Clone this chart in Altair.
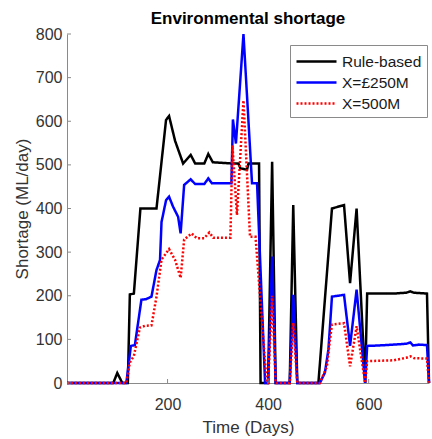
import altair as alt
import pandas as pd

FONT = "Liberation Sans"

series_names = ["Rule-based", "X=£250M", "X=500M"]
series_colors = ["#000000", "#0000ff", "#ff0000"]
series_dash = [[1, 0], [1, 0], [2, 2]]

# Rule-based operation
rule_days = [0, 92, 100, 110, 121, 125, 133, 146, 178, 197, 203, 215, 231, 246, 255,
             273, 281, 290, 331, 341, 345, 358, 361, 382, 385, 400, 408, 415, 443,
             450, 458, 500, 527, 551, 563, 576, 593, 597, 620, 650, 675, 683, 690,
             716, 720]
rule_vals = [0, 0, 23, 0, 0, 203, 205, 400, 400, 603, 612, 555, 503, 523, 503,
             503, 525, 506, 503, 503, 492, 489, 503, 503, 0, 0, 507, 0, 0,
             408, 0, 0, 400, 408, 229, 400, 0, 205, 205, 205, 207, 210, 207,
             205, 0]

# X = £250M
x250_days = [0, 118, 127, 135, 148, 157, 168, 178, 185, 188, 197, 203, 211, 221, 226,
             233, 246, 255, 273, 281, 288, 327, 330, 336, 351, 368, 378, 394, 400,
             408, 415, 443, 450, 458, 503, 513, 520, 527, 551, 563, 576, 593, 597,
             620, 650, 675, 683, 688, 700, 716, 720]
x250_vals = [0, 0, 85, 87, 191, 192, 198, 259, 282, 369, 419, 427, 404, 381, 343,
             454, 467, 456, 456, 469, 458, 458, 604, 549, 800, 458, 458, 0, 0,
             290, 0, 0, 202, 0, 0, 24, 77, 198, 202, 85, 214, 0, 85,
             86, 88, 90, 93, 86, 88, 87, 0]

# X = 500M
x500_days = [0, 118, 125, 133, 145, 155, 168, 178, 188, 203, 215, 226, 233, 248, 258,
             273, 283, 291, 325, 329, 338, 351, 364, 375, 397, 400, 408, 415, 443,
             450, 458, 503, 517, 523, 527, 551, 563, 576, 593, 597, 620, 650, 675,
             683, 690, 716, 720]
x500_vals = [0, 0, 47, 62, 127, 131, 132, 198, 283, 307, 282, 241, 329, 343, 332,
             332, 345, 333, 333, 545, 385, 648, 335, 335, 0, 0, 200, 0, 0,
             138, 0, 0, 38, 99, 134, 137, 38, 130, 0, 50, 51, 52, 58,
             61, 57, 56, 0]

y_ticks = [0, 100, 200, 300, 400, 500, 600, 700, 800]
x_ticks = [200, 400, 600]

frames = []
for name, days, vals in [(series_names[0], rule_days, rule_vals),
                         (series_names[1], x250_days, x250_vals),
                         (series_names[2], x500_days, x500_vals)]:
    frames.append(pd.DataFrame({"day": days, "shortage": vals, "series": name,
                                "idx": range(len(days))}))
df = pd.concat(frames, ignore_index=True)

W, H = 362, 349
AXIS_COL = "#8a8a8a"
TEXT_COL = "#333333"

# flat legend glyph: 40px stroke on a 20px symbol box, so rows stay compact
legend_kw = dict(
    orient="none", legendX=223, legendY=11, title=None,
    fillColor="white", strokeColor="#8a8a8a", padding=5,
    symbolType="M-1,0H3", symbolSize=400, symbolStrokeWidth=2.5,
    labelFont=FONT, labelFontSize=15.5, labelColor="#1a1a1a", labelOffset=24,
    rowPadding=1, cornerRadius=0,
)

x_scale = alt.Scale(domain=[0, 720], nice=False, zero=False)
y_scale = alt.Scale(domain=[0, 800], nice=False)

lines = alt.Chart(df).mark_line(strokeWidth=2.5).encode(
    x=alt.X("day:Q", scale=x_scale,
            axis=alt.Axis(values=x_ticks, title="Time (Days)", ticks=False,
                          labelPadding=13, titlePadding=7, grid=False)),
    y=alt.Y("shortage:Q", scale=y_scale,
            axis=alt.Axis(values=y_ticks, title="Shortage (ML/day)", ticks=False,
                          labelPadding=5, titlePadding=4, grid=False)),
    color=alt.Color("series:N", scale=alt.Scale(domain=series_names, range=series_colors),
                    legend=alt.Legend(**legend_kw)),
    strokeDash=alt.StrokeDash("series:N", scale=alt.Scale(domain=series_names, range=series_dash),
                              legend=alt.Legend(**legend_kw)),
    order="idx:Q",
)

# inward tick marks on both axes
ytick_df = pd.DataFrame({"shortage": y_ticks})
xtick_df = pd.DataFrame({"day": x_ticks})
yticks = alt.Chart(ytick_df).mark_rule(color=AXIS_COL, strokeWidth=1).encode(
    y=alt.Y("shortage:Q", scale=y_scale), x=alt.value(0), x2=alt.value(4))
xticks = alt.Chart(xtick_df).mark_rule(color=AXIS_COL, strokeWidth=1).encode(
    x=alt.X("day:Q", scale=x_scale), y=alt.value(H), y2=alt.value(H - 4))

chart = alt.layer(lines, yticks, xticks).properties(
    width=W, height=H,
    background="white",
    autosize=alt.AutoSizeParams(type="none"),
    padding={"left": 67, "top": 34, "right": 3, "bottom": 56},
    title=alt.TitleParams("Environmental shortage", font=FONT, fontSize=17,
                          fontWeight="bold", color="#000000", offset=-2),
).configure_view(stroke=None).configure_axis(
    domainColor=AXIS_COL, domainWidth=1,
    labelFont=FONT, labelFontSize=16, labelColor=TEXT_COL,
    titleFont=FONT, titleFontSize=17, titleFontWeight="normal", titleColor=TEXT_COL,
)

chart.save("out.html", embed_options={"renderer": "svg", "actions": False})
